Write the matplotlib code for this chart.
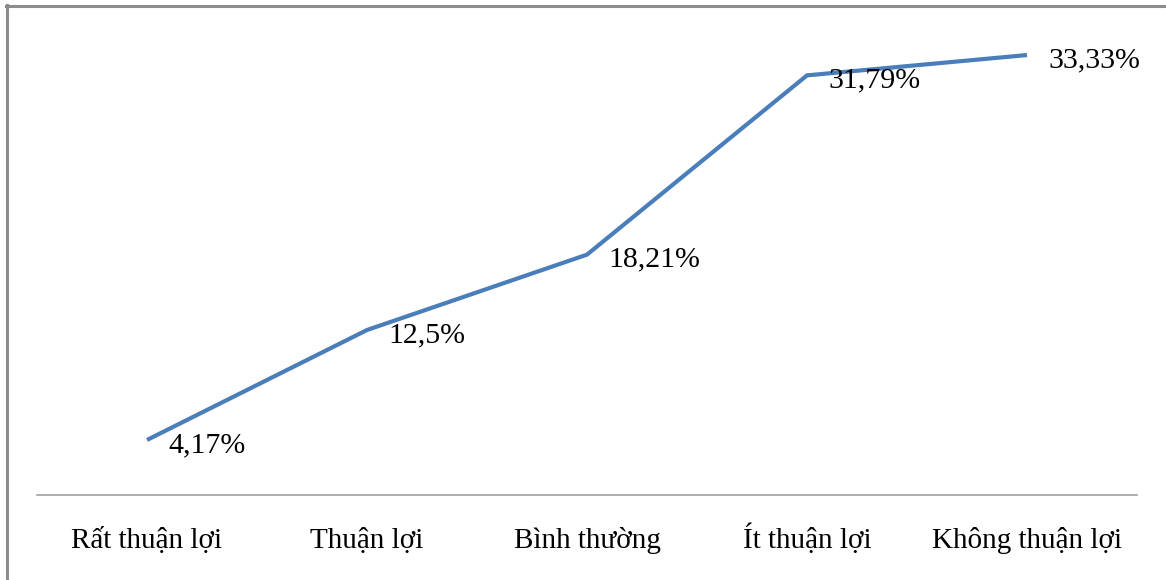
import matplotlib
matplotlib.use("Agg")
import matplotlib.pyplot as plt
from matplotlib.lines import Line2D

categories = ["Rất thuận lợi", "Thuận lợi", "Bình thường", "Ít thuận lợi", "Không thuận lợi"]
values = [4.17, 12.5, 18.21, 31.79, 33.33]
value_labels = ["4,17%", "12,5%", "18,21%", "31,79%", "33,33%"]

plt.rcParams["font.family"] = ["Liberation Serif", "DejaVu Serif"]

W, H, DPI = 1166, 580, 100
fig = plt.figure(figsize=(W / DPI, H / DPI), dpi=DPI, facecolor="white")
ax_bottom, ax_top = 495, 33
ax = fig.add_axes([37 / W, 1 - ax_bottom / H, 1100 / W, (ax_bottom - ax_top) / H])

x = list(range(len(categories)))
ax.plot(x, values, color="#4A7EBB", linewidth=3.0, solid_capstyle="butt",
        solid_joinstyle="miter")

for xi, v, lab in zip(x, values, value_labels):
    ax.annotate(lab, (xi, v), xytext=(15.5, -8.6), textcoords="offset points",
                ha="left", va="baseline", fontsize=21.5, color="black")

ax.set_xlim(-0.5, len(categories) - 0.5)
ax.set_ylim(0, 35)
ax.set_xticks(x)
ax.set_xticklabels([])
ax.tick_params(axis="x", length=0)
ax.set_yticks([])

# category names on a common baseline below the axis
label_baseline = -(548 - ax_bottom) / (ax_bottom - ax_top)
for xi, cat in zip(x, categories):
    ax.text(xi, label_baseline, cat, transform=ax.get_xaxis_transform(),
            ha="center", va="baseline", fontsize=21, color="black")

for side in ("top", "right", "left"):
    ax.spines[side].set_visible(False)
ax.spines["bottom"].set_color("#A0A0A0")
ax.spines["bottom"].set_linewidth(1.2)
ax.set_facecolor("none")

# outer frame: top and left edges
fig.add_artist(Line2D([6 / W, 1.0], [1 - 5.5 / H, 1 - 5.5 / H],
                      transform=fig.transFigure, color="#8C8C8C", linewidth=2.2))
fig.add_artist(Line2D([7 / W, 7 / W], [0.0, 1 - 5 / H],
                      transform=fig.transFigure, color="#8C8C8C", linewidth=2.2))

fig.savefig("out.png", dpi=DPI, facecolor="white")
